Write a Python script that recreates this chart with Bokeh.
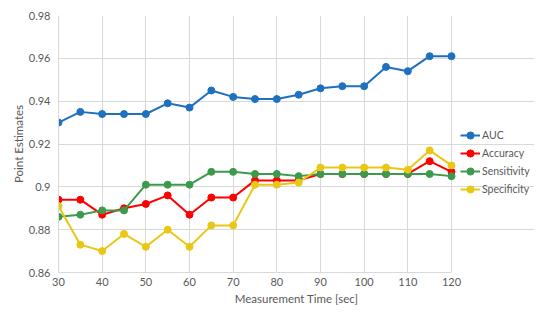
from bokeh.plotting import figure
from bokeh.models import FixedTicker, Legend, LegendItem, Range1d
from bokeh.embed import file_html
from bokeh.resources import INLINE

time_sec = [30, 35, 40, 45, 50, 55, 60, 65, 70, 75, 80, 85, 90, 95, 100, 105, 110, 115, 120]
auc = [0.930, 0.935, 0.934, 0.934, 0.934, 0.939, 0.937, 0.945, 0.942, 0.941, 0.941, 0.943,
       0.946, 0.947, 0.947, 0.956, 0.954, 0.961, 0.961]
accuracy = [0.894, 0.894, 0.887, 0.890, 0.892, 0.896, 0.887, 0.895, 0.895, 0.903, 0.903, 0.903,
            0.906, 0.906, 0.906, 0.906, 0.906, 0.912, 0.907]
sensitivity = [0.886, 0.887, 0.889, 0.889, 0.901, 0.901, 0.901, 0.907, 0.907, 0.906, 0.906, 0.905,
               0.906, 0.906, 0.906, 0.906, 0.906, 0.906, 0.905]
specificity = [0.891, 0.873, 0.870, 0.878, 0.872, 0.880, 0.872, 0.882, 0.882, 0.901, 0.901, 0.902,
               0.909, 0.909, 0.909, 0.909, 0.908, 0.917, 0.910]

series_names = ["AUC", "Accuracy", "Sensitivity", "Specificity"]
series_values = [auc, accuracy, sensitivity, specificity]
series_colors = ["#1F71C0", "#FF0000", "#3C9A4C", "#E8C814"]

x_ticks = [30, 40, 50, 60, 70, 80, 90, 100, 110, 120]
y_ticks = [0.86, 0.88, 0.90, 0.92, 0.94, 0.96, 0.98]
y_tick_labels = {0.86: "0.86", 0.88: "0.88", 0.90: "0.9", 0.92: "0.92", 0.94: "0.94", 0.96: "0.96", 0.98: "0.98"}

FONT = "Lato"
TXT = "#595959"
GRID = "#D9D9D9"

W, H = 534, 307
LEFT, TOP, BOTTOM = 58, 15, 35
DATA_RIGHT_PX = 451          # pixel where x=120 sits
x0, x1 = x_ticks[0], x_ticks[-1]
px_per_unit = (DATA_RIGHT_PX - LEFT) / (x1 - x0)
x_end = x1 + (W - DATA_RIGHT_PX) / px_per_unit   # extend frame so legend fits inside it

p = figure(width=W, height=H, output_backend="svg", toolbar_location=None,
           x_range=Range1d(x0, x_end), y_range=Range1d(y_ticks[0], y_ticks[-1]),
           min_border_left=LEFT, min_border_right=0, min_border_top=TOP, min_border_bottom=BOTTOM)
p.outline_line_color = None
p.background_fill_color = "white"
p.border_fill_color = "white"

p.xaxis.ticker = FixedTicker(ticks=x_ticks)
p.yaxis.ticker = FixedTicker(ticks=y_ticks)
p.yaxis.major_label_overrides = y_tick_labels
p.xaxis.bounds = (x0, x1)
for ax in (p.xaxis[0], p.yaxis[0]):
    ax.axis_line_color = GRID
    ax.major_tick_line_color = None
    ax.minor_tick_line_color = None
    ax.major_tick_out = 0
    ax.major_tick_in = 0
    ax.minor_tick_out = 0
    ax.minor_tick_in = 0
    ax.major_label_text_font = FONT
    ax.major_label_text_font_size = "11px"
    ax.major_label_text_color = TXT
    ax.axis_label_text_font = FONT
    ax.axis_label_text_font_size = "11.5px"
    ax.axis_label_text_font_style = "normal"
    ax.axis_label_text_color = TXT
p.xaxis.axis_label = "Measurement Time [sec]"
p.yaxis.axis_label = "Point Estimates"
p.xaxis.major_label_standoff = 5
p.yaxis.major_label_standoff = 8
p.xaxis.axis_label_standoff = 3
p.yaxis.axis_label_standoff = 1
p.xgrid.grid_line_color = GRID
p.ygrid.grid_line_color = GRID
p.ygrid.bounds = (x0, x1)

items = []
for name, vals, col in zip(series_names, series_values, series_colors):
    r1 = p.line(time_sec, vals, line_color=col, line_width=2)
    r2 = p.scatter(time_sec, vals, size=7, fill_color=col, line_color=col)
    items.append(LegendItem(label=name, renderers=[r1, r2]))

legend = Legend(items=items, location=(402, 74), orientation="vertical")
legend.border_line_color = None
legend.background_fill_alpha = 0
legend.padding = 0
legend.margin = 0
legend.spacing = 0
legend.label_height = 18
legend.glyph_height = 18
legend.glyph_width = 20
legend.label_standoff = 2
legend.label_text_font = FONT
legend.label_text_font_size = "10.5px"
legend.label_text_color = TXT
p.add_layout(legend, "center")

open("out.html", "w").write(file_html(p, INLINE))
